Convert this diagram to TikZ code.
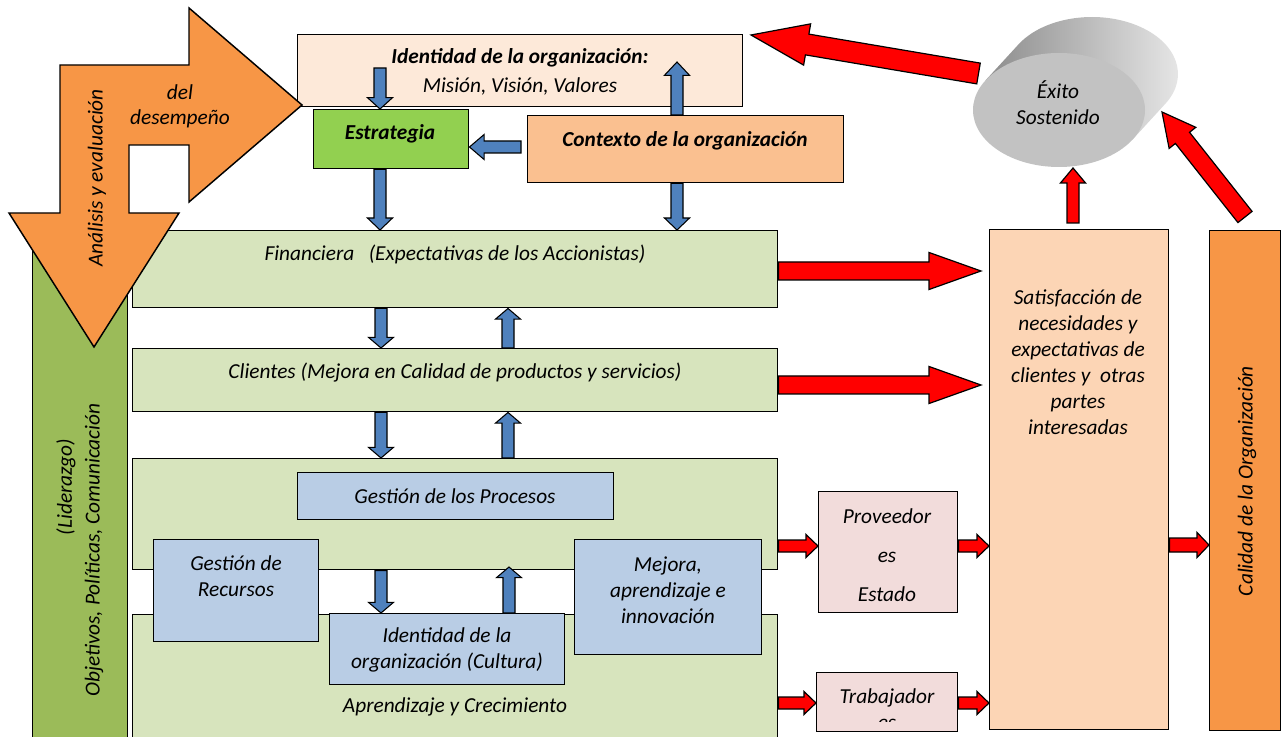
\documentclass[tikz,border=0pt]{standalone}
\usepackage{fontspec}
\setmainfont{Carlito}
\usetikzlibrary{calc}
\definecolor{identc}{HTML}{FDE9D9}
\definecolor{estrc}{HTML}{92D050}
\definecolor{ctxc}{HTML}{FAC090}
\definecolor{ltgreen}{HTML}{D7E4BD}
\definecolor{ltblue}{HTML}{B9CDE5}
\definecolor{pinkc}{HTML}{F2DCDB}
\definecolor{peachc}{HTML}{FCD5B5}
\definecolor{orangec}{HTML}{F79646}
\definecolor{lidc}{HTML}{9BBB59}
\definecolor{bluec}{HTML}{4F81BD}
\definecolor{redc}{HTML}{FF0000}
% block arrow: style, start, end, shaft half width, head half width, head length
\newcommand\blockarrow[6]{%
  \coordinate (bah) at ($(#3)!#6!(#2)$);
  \draw[#1] ($(#2)!#4!90:(#3)$) -- ($(bah)!#4!90:(#3)$) -- ($(bah)!#5!90:(#3)$) -- (#3)
    -- ($(bah)!#5!-90:(#3)$) -- ($(bah)!#4!-90:(#3)$) -- ($(#2)!#4!-90:(#3)$) -- cycle;}
\newcommand\boxnode[7]{\node[bx,#2,minimum width={(#5-#3)*0.75pt},minimum height={(#6-#4)*0.75pt}] (#1) at (#3,#4) {};}
\begin{document}
\begin{tikzpicture}[x=0.75pt,y=-0.75pt,line join=miter,
  bx/.style={draw=black,line width=1.1pt,anchor=north west,inner sep=0pt},
  txt/.style={font=\fontsize{16}{19.5}\selectfont\itshape,align=center,inner sep=0pt},
  btxt/.style={font=\fontsize{16}{19.5}\selectfont\bfseries\itshape,align=center,inner sep=0pt},
  barr/.style={fill=bluec,draw=black,line width=0.8pt},
  rarr/.style={fill=redc,draw=black,line width=0.9pt}]
\clip (0,0) rectangle (1281,737);
% left leadership bar
\boxnode{lid}{fill=lidc}{32}{230}{127}{745}{}
% perspective boxes
\boxnode{fin}{fill=ltgreen}{132}{230}{777}{307}{}
\boxnode{cli}{fill=ltgreen}{132}{348}{777}{411}{}
\boxnode{proc}{fill=ltgreen}{132}{458}{777}{569}{}
\boxnode{apr}{fill=ltgreen}{132}{614}{777}{745}{}
\boxnode{gp}{fill=ltblue}{297}{472}{613}{519}{}
\boxnode{rec}{fill=ltblue}{153}{539}{318}{641}{}
\boxnode{cul}{fill=ltblue}{329}{613}{564}{684}{}
\boxnode{mej}{fill=ltblue}{574}{539}{761}{654}{}
% texts in perspectives
\node[txt] (tfin) at (455,254) {Financiera \ \ (Expectativas de los Accionistas)};
\node[txt] (tcli) at (455,373) {Clientes (Mejora en Calidad de productos y servicios)};
\node[txt] (tgp) at (455,496) {Gestión de los Procesos};
\node[txt] (trec) at (236,576) {Gestión de\\Recursos};
\node[txt] (tcul) at (447,650) {Identidad de la\\organización (Cultura)};
\node[txt] (tmej) at (668,590) {Mejora,\\aprendizaje e\\innovación};
\node[txt] (tapr) at (455,707) {Aprendizaje y Crecimiento};
\node[txt,rotate=90] (tlid1) at (66,487) {(Liderazgo)};
\node[txt,rotate=90] (tlid2) at (94,550) {Objetivos, Políticas, Comunicación};
% top boxes
\boxnode{ident}{fill=identc}{297}{34}{742}{106}{}
\boxnode{estr}{fill=estrc}{313}{109}{468}{168}{}
\boxnode{ctx}{fill=ctxc}{527}{115}{843}{182}{}
\node[btxt] (tid1) at (520,58) {Identidad de la organización:};
\node[txt] (tid2) at (520,86) {Misión, Visión, Valores};
\node[btxt] (testr) at (390,134) {Estrategia};
\node[btxt] (tctx) at (685,141) {Contexto de la organización};
% blue arrows
\coordinate (b1s) at (380,68);
\blockarrow{barr}{b1s}{estr.north -| b1s}{4.5pt}{9.4pt}{8.5pt}
\coordinate (b2s) at (521,147);
\blockarrow{barr}{b2s}{estr.east |- b2s}{4.5pt}{9.4pt}{11pt}
\coordinate (b3x) at (677,62);
\blockarrow{barr}{ctx.north -| b3x}{b3x}{4.5pt}{9.4pt}{10pt}
\coordinate (b4x) at (380,175);
\blockarrow{barr}{estr.south -| b4x}{fin.north -| b4x}{4.5pt}{9.4pt}{9pt}
\blockarrow{barr}{ctx.south -| b3x}{fin.north -| b3x}{4.5pt}{9.4pt}{9pt}
\coordinate (dx) at (381,0);
\coordinate (ux) at (508,0);
\blockarrow{barr}{fin.south -| dx}{cli.north -| dx}{4.5pt}{9.4pt}{8pt}
\blockarrow{barr}{cli.north -| ux}{fin.south -| ux}{4.5pt}{9.4pt}{8pt}
\blockarrow{barr}{cli.south -| dx}{proc.north -| dx}{4.5pt}{9.4pt}{8pt}
\blockarrow{barr}{proc.north -| ux}{cli.south -| ux}{4.5pt}{9.4pt}{8pt}
\blockarrow{barr}{proc.south -| dx}{cul.north -| dx}{4.5pt}{9.4pt}{8pt}
\coordinate (u3) at (509,567);
\blockarrow{barr}{cul.north -| u3}{u3}{4.5pt}{9.4pt}{8pt}
% orange bent arrow
\draw[fill=orangec,line width=1.1pt] (60,65) -- (189,65) -- (189,8) -- (302,105) -- (189,202) -- (189,145)
  -- (129,145) -- (129,213) -- (179,213) -- (94,347) -- (9,213) -- (60,213) -- cycle;
\node[txt,rotate=90] (tana) at (97,178) {Análisis y evaluación};
\node[txt,font=\fontsize{16}{18.75}\selectfont\itshape] (tdel) at (180,106) {del\\desempeño};
% right side
\boxnode{prov}{fill=pinkc}{818}{491}{957}{612}{}
\boxnode{trab}{fill=pinkc}{816}{672}{957}{731}{}
\boxnode{sat}{fill=peachc}{989}{229}{1168}{729}{}
\boxnode{cal}{fill=orangec}{1209}{230}{1280}{730}{}
\node[txt,font=\fontsize{16}{29.25}\selectfont\itshape] (tprov) at (887,555) {Proveedor\\es\\Estado};
\node[txt] (ttrab) at (887,698) {Trabajador};
\begin{scope}
\clip (818,673) rectangle (956,721.5);
\node[txt] (ttrab2) at (887,724) {es};
\end{scope}
\node[txt] (tsat) at (1078,362) {Satisfacción de\\necesidades y\\expectativas de\\clientes y \ otras\\partes\\interesadas};
\node[txt,rotate=90] (tcal) at (1247,481) {Calidad de la Organización};
% cylinder
\begin{scope}[shift={(1059,110)},x=0.75pt,y=0.75pt]
\shade[left color=black!45,right color=black!8] (-73.5,29.6) -- (-40.5,65.6)
  arc[start angle=148.7,end angle=-31.3,x radius=86,y radius=57] -- (73.5,-29.6) -- cycle;
\fill[black!24] (0,0) ellipse[x radius=86,y radius=57];
\end{scope}
\node[txt] (exito) at (1058,103) {Éxito\\Sostenido};
% red arrows
\coordinate (r1s) at (978.5,73.5);
\coordinate (r1e) at (751,35);
\blockarrow{rarr}{r1s}{r1e}{7.9pt}{15.7pt}{42.7pt}
\coordinate (r2e) at (1073,168);
\coordinate (r2s) at (1073,223);
\blockarrow{rarr}{r2s}{r2e}{4.5pt}{9.4pt}{11.25pt}
\coordinate (r3s) at (1245,217);
\coordinate (r3e) at (1162,112);
\blockarrow{rarr}{r3s}{r3e}{6.75pt}{12.75pt}{24.75pt}
\coordinate (ra) at (0,271);
\coordinate (rb) at (981,385);
\blockarrow{rarr}{fin.east |- ra}{rb |- ra}{6.75pt}{13.9pt}{39pt}
\blockarrow{rarr}{cli.east |- rb}{rb}{6.75pt}{13.9pt}{39pt}
\coordinate (rc) at (0,546);
\blockarrow{rarr}{proc.east |- rc}{prov.west |- rc}{4.5pt}{8.6pt}{9pt}
\blockarrow{rarr}{prov.east |- rc}{sat.west |- rc}{4.5pt}{8.6pt}{9pt}
\coordinate (rd) at (0,703);
\blockarrow{rarr}{apr.east |- rd}{trab.west |- rd}{4.5pt}{8.6pt}{9pt}
\blockarrow{rarr}{trab.east |- rd}{sat.west |- rd}{4.5pt}{8.6pt}{9pt}
\coordinate (re) at (0,545);
\blockarrow{rarr}{sat.east |- re}{cal.west |- re}{5.25pt}{9.4pt}{9pt}
\end{tikzpicture}
\end{document}
